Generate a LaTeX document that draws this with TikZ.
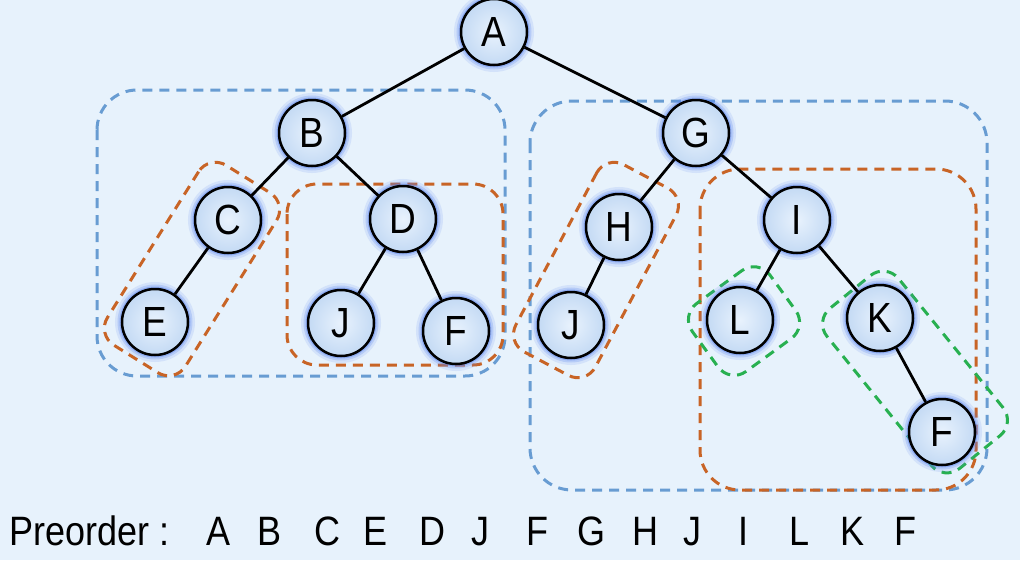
\documentclass[tikz,border=0pt]{standalone}
\usepackage{fontspec}
\usepackage{graphicx}
\setmainfont{Liberation Sans}
\definecolor{bgc}{RGB}{231,242,252}
\definecolor{bluedash}{RGB}{104,156,210}
\definecolor{orangedash}{RGB}{200,100,38}
\definecolor{greendash}{RGB}{40,176,80}
\definecolor{glowc}{RGB}{95,135,240}
\definecolor{nodein}{RGB}{232,242,253}
\definecolor{nodeout}{RGB}{196,218,244}
\newcommand\tx[1]{\scalebox{1}[1.14]{#1}}
\tikzset{
  tnode/.style={circle, minimum size=66pt, inner sep=0pt, draw=black, line width=2.5pt,
    inner color=nodein, outer color=nodeout,
    preaction={draw=glowc, line width=14pt, draw opacity=0.14},
    preaction={draw=glowc, line width=9pt, draw opacity=0.25},
    preaction={draw=glowc, line width=5pt, draw opacity=0.45},
    font=\fontsize{37}{40}\selectfont},
  edge/.style={line width=2.8pt, black},
  dbox/.style={dash pattern=on 10pt off 7pt, line width=3pt},
  rbox/.style={draw, dbox, rectangle, inner sep=0pt},
  seq/.style={font=\fontsize{36}{40}\selectfont, anchor=base, inner sep=0pt},
}
\begin{document}
\begin{tikzpicture}[x=1pt,y=1pt]
\useasboundingbox (0,0) rectangle (1020,-560);
\fill[bgc] (0,0) rectangle (1020,-560);

% dashed group boxes
\draw[bluedash, dbox, rounded corners=40pt] (97,-90) rectangle (505,-376);
\draw[bluedash, dbox, rounded corners=42pt] (530,-101) rectangle (987,-490);
\draw[orangedash, dbox, rounded corners=30pt] (287,-184) rectangle (503,-365);
\draw[orangedash, dbox, rounded corners=40pt] (700,-169) rectangle (976,-490);
\node[rbox, draw=orangedash, rounded corners=20pt, minimum width=212pt, minimum height=92pt, rotate=58] (bCE) at (192,-269) {};
\node[rbox, draw=orangedash, rounded corners=20pt, minimum width=212pt, minimum height=90pt, rotate=62] (bHJ) at (596,-270) {};
\node[rbox, draw=greendash, rounded corners=20pt, minimum width=96pt, minimum height=84pt, rotate=36] (bL) at (744,-321) {};
\node[rbox, draw=greendash, rounded corners=20pt, minimum width=206pt, minimum height=92pt, rotate=-51] (bKF) at (915,-372) {};

% tree nodes
\node[tnode] (A) at (494,-32) {\tx{A}};
\node[tnode] (B) at (312,-133) {\tx{B}};
\node[tnode] (C) at (228,-220) {\tx{C}};
\node[tnode] (E) at (155,-322) {\tx{E}};
\node[tnode] (D) at (403,-219) {\tx{D}};
\node[tnode] (J1) at (341,-323) {\tx{J}};
\node[tnode] (F1) at (456,-331) {\tx{F}};
\node[tnode] (G) at (696,-133) {\tx{G}};
\node[tnode] (H) at (619,-227) {\tx{H}};
\node[tnode] (J2) at (571,-325) {\tx{J}};
\node[tnode] (I) at (797,-220) {\tx{I}};
\node[tnode] (L) at (740,-320) {\tx{L}};
\node[tnode] (K) at (880,-318) {\tx{K}};
\node[tnode] (F2) at (942,-432) {\tx{F}};

% edges
\draw[edge] (A) -- (B);
\draw[edge] (A) -- (G);
\draw[edge] (B) -- (C);
\draw[edge] (B) -- (D);
\draw[edge] (C) -- (E);
\draw[edge] (D) -- (J1);
\draw[edge] (D) -- (F1);
\draw[edge] (G) -- (H);
\draw[edge] (G) -- (I);
\draw[edge] (H) -- (J2);
\draw[edge] (I) -- (L);
\draw[edge] (I) -- (K);
\draw[edge] (K) -- (F2);

% preorder sequence
\node[seq, anchor=base west] (pre) at (9,-545) {\tx{Preorder :}};
\node[seq] (s1) at (219,-545) {\tx{A}};
\node[seq] (s2) at (270,-545) {\tx{B}};
\node[seq] (s3) at (327,-545) {\tx{C}};
\node[seq] (s4) at (376,-545) {\tx{E}};
\node[seq] (s5) at (432,-545) {\tx{D}};
\node[seq] (s6) at (480,-545) {\tx{J}};
\node[seq] (s7) at (537,-545) {\tx{F}};
\node[seq] (s8) at (591,-545) {\tx{G}};
\node[seq] (s9) at (645,-545) {\tx{H}};
\node[seq] (s10) at (692,-545) {\tx{J}};
\node[seq] (s11) at (743,-545) {\tx{I}};
\node[seq] (s12) at (800,-545) {\tx{L}};
\node[seq] (s13) at (852,-545) {\tx{K}};
\node[seq] (s14) at (905,-545) {\tx{F}};
\end{tikzpicture}
\end{document}
